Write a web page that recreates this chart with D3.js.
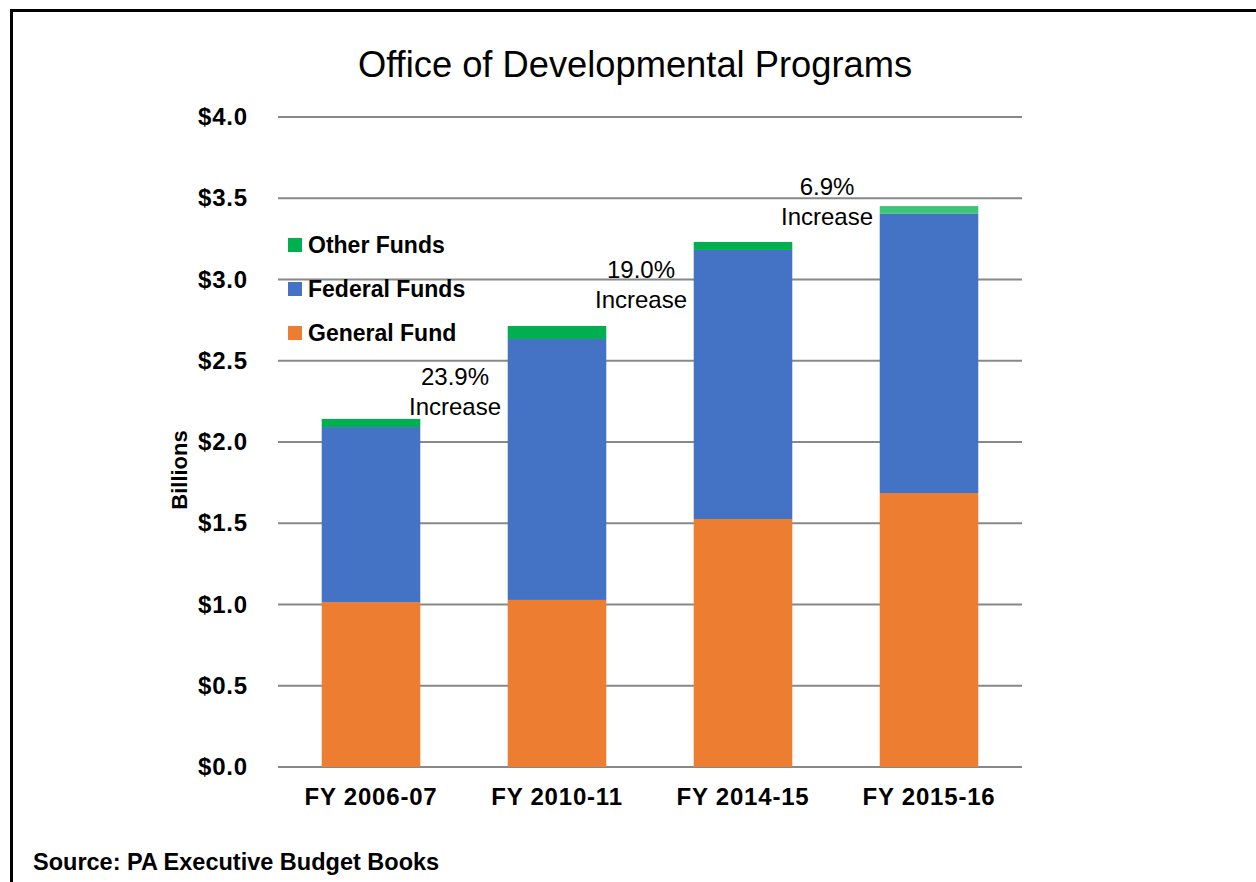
<!DOCTYPE html>
<html>
<head>
<meta charset="utf-8">
<script src="https://cdn.jsdelivr.net/npm/d3@7"></script>
<style>
  body { margin: 0; background: #fff; }
  svg { display: block; font-family: "Liberation Sans", Arial, sans-serif; }
</style>
</head>
<body>
<div id="chart"></div>
<script>
// data (billions of $)
var years = ["FY 2006-07", "FY 2010-11", "FY 2014-15", "FY 2015-16"];
var generalFund = [1.015, 1.028, 1.526, 1.686];
var federalFunds = [1.077, 1.606, 1.656, 1.718];
var otherFunds = [0.050, 0.080, 0.049, 0.048];
var seriesNames = ["General Fund", "Federal Funds", "Other Funds"];
var seriesColors = ["#ed7d31", "#4472c4", "#00b050"];
var yTicks = [0, 0.5, 1, 1.5, 2, 2.5, 3, 3.5, 4];
var notes = [
  { after: 0, pct: "23.9%", at: 2.35 },
  { after: 1, pct: "19.0%", at: 3.01 },
  { after: 2, pct: "6.9%", at: 3.52 }
];

var W = 1256, H = 882;
var margin = { top: 117, right: 234, bottom: 115, left: 278 };
var width = W - margin.left - margin.right;
var height = H - margin.top - margin.bottom;

var svg = d3.select("#chart").append("svg")
  .attr("width", W)
  .attr("height", H);

// outer frame (left and top edges show)
svg.append("path")
  .attr("d", "M11.5," + (H + 5) + "V10.5H" + (W + 5))
  .attr("fill", "none")
  .attr("stroke", "#000")
  .attr("stroke-width", 3);

svg.append("text")
  .attr("x", 635)
  .attr("y", 77)
  .attr("text-anchor", "middle")
  .style("font-size", "36.3px")
  .text("Office of Developmental Programs");

var g = svg.append("g")
  .attr("transform", "translate(" + margin.left + "," + margin.top + ")");

var x = d3.scaleBand().domain(years).range([0, width]).paddingInner(0.47).paddingOuter(0.235);
var y = d3.scaleLinear().domain([0, 4]).range([height, 0]);

// gridlines
g.append("g")
  .selectAll("line")
  .data(yTicks)
  .enter().append("line")
  .attr("x1", 0)
  .attr("x2", width)
  .attr("y1", function(d) { return y(d); })
  .attr("y2", function(d) { return y(d); })
  .attr("stroke", "#888")
  .attr("stroke-width", 2);

// y axis labels
var yAxis = g.append("g")
  .call(d3.axisLeft(y).tickValues(yTicks).tickSize(0).tickPadding(30)
    .tickFormat(function(d) { return "$" + d3.format(".1f")(d); }));
yAxis.select(".domain").remove();
yAxis.selectAll("text")
  .style("font-size", "24px")
  .style("font-weight", "bold")
  .style("letter-spacing", "0.8px")
  .style("font-family", "Liberation Sans, Arial, sans-serif")
  .attr("fill", "#000");

svg.append("text")
  .attr("transform", "translate(187,470) rotate(-90)")
  .attr("text-anchor", "middle")
  .style("font-size", "22px")
  .style("font-weight", "bold")
  .text("Billions");

// stack
var rows = years.map(function(yr, i) {
  return { year: yr, g: generalFund[i], f: federalFunds[i], o: otherFunds[i] };
});
var stack = d3.stack().keys(["g", "f", "o"]);
var layers = stack(rows);

g.selectAll(".layer")
  .data(layers)
  .enter().append("g")
  .attr("class", "layer")
  .attr("fill", function(d, i) { return seriesColors[i]; })
  .selectAll("rect")
  .data(function(d) { return d; })
  .enter().append("rect")
  .attr("x", function(d) { return x(d.data.year); })
  .attr("width", x.bandwidth())
  .attr("y", function(d) { return y(d[1]); })
  .attr("height", function(d) { return y(d[0]) - y(d[1]); });

// lighter green on last bar's top segment
g.selectAll(".layer").filter(function(d) { return d.key === "o"; })
  .selectAll("rect").filter(function(d, i) { return i === 3; })
  .attr("fill", "#40c47a");

// x axis
var xAxis = g.append("g")
  .attr("transform", "translate(0," + height + ")")
  .call(d3.axisBottom(x).tickSize(0).tickPadding(21));
xAxis.select(".domain").remove();
xAxis.selectAll("text")
  .style("font-size", "24px")
  .style("font-weight", "bold")
  .style("letter-spacing", "0.8px")
  .style("font-family", "Liberation Sans, Arial, sans-serif")
  .attr("fill", "#000");

// annotations between bars
var noteG = g.selectAll(".note")
  .data(notes)
  .enter().append("g")
  .attr("transform", function(d) {
    var cx = x(years[d.after]) + x.bandwidth() + x.step() * x.paddingInner() / 2 - 9;
    return "translate(" + cx + "," + y(d.at) + ")";
  });
noteG.append("text")
  .attr("text-anchor", "middle")
  .style("font-size", "24px")
  .text(function(d) { return d.pct; });
noteG.append("text")
  .attr("text-anchor", "middle")
  .attr("y", 30)
  .style("font-size", "24px")
  .text("Increase");

// legend
var legendItems = [2, 1, 0];
var legend = svg.append("g").attr("transform", "translate(288,245)");
var li = legend.selectAll("g")
  .data(legendItems)
  .enter().append("g")
  .attr("transform", function(d, i) { return "translate(0," + (i * 44) + ")"; });
li.append("rect")
  .attr("x", 0)
  .attr("y", -7)
  .attr("width", 14)
  .attr("height", 14)
  .attr("fill", function(d) { return seriesColors[d]; });
li.append("text")
  .attr("x", 20)
  .attr("y", 8)
  .style("font-size", "23px")
  .style("font-weight", "bold")
  .text(function(d) { return seriesNames[d]; });

svg.append("text")
  .attr("x", 33)
  .attr("y", 870)
  .style("font-size", "23.5px")
  .style("font-weight", "bold")
  .text("Source: PA Executive Budget Books");
</script>
</body>
</html>
